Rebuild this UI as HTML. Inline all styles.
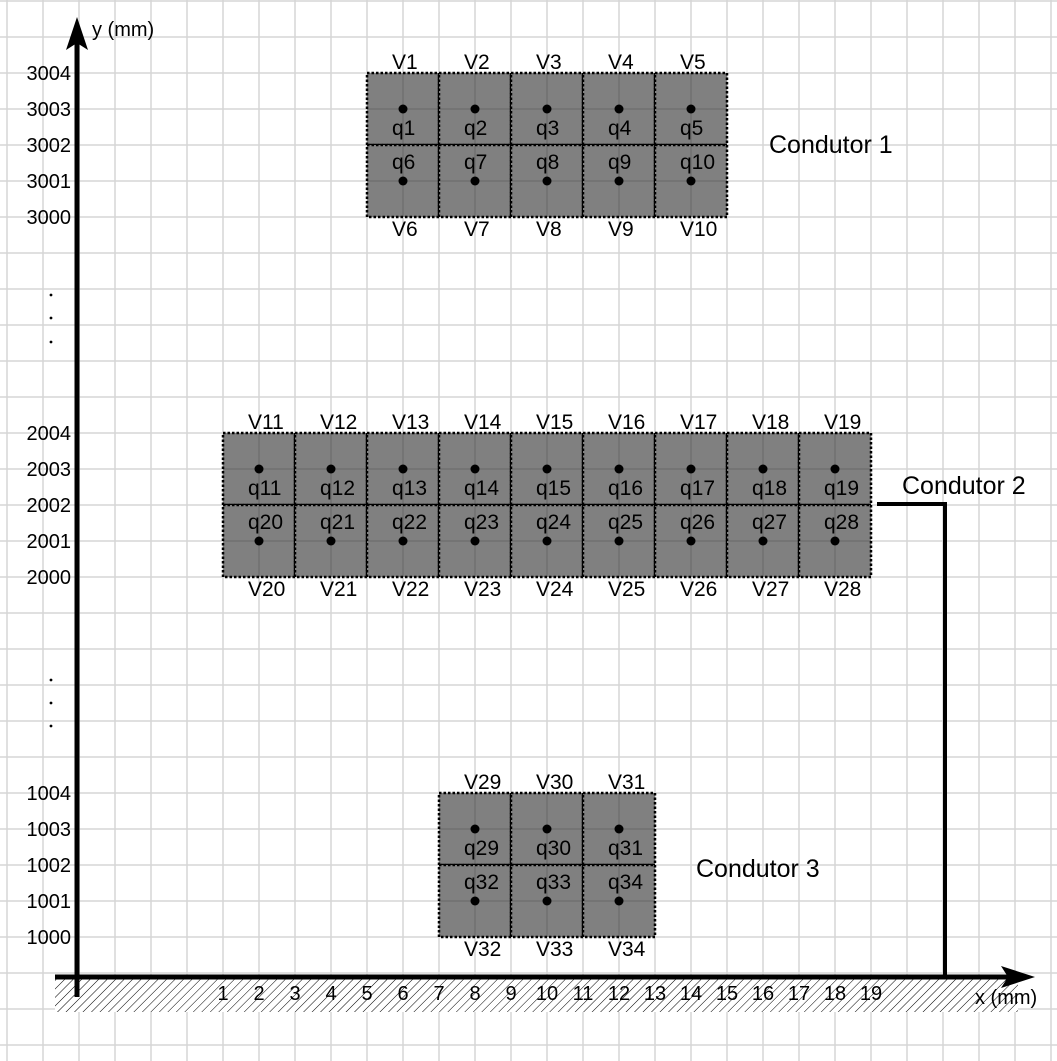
<!DOCTYPE html>
<html><head><meta charset="utf-8"><style>
html,body{margin:0;padding:0;background:#fff;}
svg{display:block;font-family:"Liberation Sans","DejaVu Sans",sans-serif;}
</style></head><body>
<svg id="chart" width="1057" height="1061" viewBox="0 0 1057 1061" xmlns="http://www.w3.org/2000/svg">
<defs>
<pattern id="hatch" patternUnits="userSpaceOnUse" width="6" height="6" patternTransform="rotate(45)">
<line x1="0" y1="0" x2="0" y2="6" stroke="#000" stroke-width="1"/>
</pattern>
</defs>
<g id="grid"></g>
<g id="content"></g>
</svg>
<script>
// Conductor data (grid units)
const condNames = ["Condutor 1","Condutor 2","Condutor 3"];
const condXStart = [5, 1, 7];
const condCols = [5, 9, 3];
const condYBase = [3000, 2000, 1000];
const condVStart = [1, 11, 29];
const condQStart = [1, 11, 29];
const yTicks = [[3000,3001,3002,3003,3004],[2000,2001,2002,2003,2004],[1000,1001,1002,1003,1004]];
const xTicks = [1,2,3,4,5,6,7,8,9,10,11,12,13,14,15,16,17,18,19];

const NS = "http://www.w3.org/2000/svg";
const content = document.getElementById('content');
const basePx = [217, 577, 937];
function xPx(u){ return 187 + 36*u; }
function yPx(i, v){ return basePx[i] - 36*(v - condYBase[i]); }
function mk(tag, attrs, parent, text){
  const e = document.createElementNS(NS, tag);
  for (const k in attrs) e.setAttribute(k, attrs[k]);
  if (text !== undefined) e.textContent = text;
  (parent||content).appendChild(e);
  return e;
}

// grid (under everything)
const gridG = mk('g',{stroke:'#d6d6d6','stroke-width':1.5},document.getElementById('grid'));


for (let x=7;x<1057;x+=36) mk('line',{x1:x,y1:0,x2:x,y2:1061},gridG);
for (let y=1;y<1061;y+=36) mk('line',{x1:0,y1:y,x2:1057,y2:y},gridG);

// hatch under x-axis
let hb = mk('rect',{x:55,y:977,width:963,height:35,fill:'#fff'});


let h = mk('rect',{x:55,y:977,width:963,height:35,fill:'url(#hatch)'});



// conductors
for (let i=0;i<3;i++){
  const g = mk('g',{});
  
  
  for (let r=0;r<2;r++){
    for (let c=0;c<condCols[i];c++){
      const x0 = xPx(condXStart[i] + 2*c);
      const y0 = yPx(i, condYBase[i] + 4 - 2*r);
      const cell = mk('rect',{x:x0,y:y0,width:72,height:72,fill:'#808080',stroke:'#000','stroke-width':2.5,'stroke-dasharray':'2.5 2'},g);
      
      
    }
  }
  // inner grid lines over cells
  const ig = mk('g',{stroke:'rgba(0,0,0,0.12)','stroke-width':1.5},g);
  
  
  const gx0 = xPx(condXStart[i]), gx1 = xPx(condXStart[i]+2*condCols[i]);
  const gy0 = yPx(i,condYBase[i]+4), gy1 = yPx(i,condYBase[i]);
  for (let x=gx0+36;x<gx1;x+=72) mk('line',{x1:x,y1:gy0,x2:x,y2:gy1},ig);
  mk('line',{x1:gx0,y1:gy0+36,x2:gx1,y2:gy0+36},ig);
  mk('line',{x1:gx0,y1:gy0+108,x2:gx1,y2:gy0+108},ig);

  for (let c=0;c<condCols[i];c++){
    const cx = xPx(condXStart[i] + 2*c + 1);
    const topY = yPx(i, condYBase[i]+4), botY = yPx(i, condYBase[i]);
    const vt = mk('text',{x:cx-11,y:topY-4,'font-size':21},g,'V'+(condVStart[i]+c));
    
    
    const vb = mk('text',{x:cx-11,y:botY+19,'font-size':21},g,'V'+(condVStart[i]+condCols[i]+c));
    
    
    const d1 = mk('circle',{cx:cx,cy:yPx(i,condYBase[i]+3),r:4.5,fill:'#000'},g);
    
    
    const d2 = mk('circle',{cx:cx,cy:yPx(i,condYBase[i]+1),r:4.5,fill:'#000'},g);
    
    
    const q1 = mk('text',{x:cx-11,y:yPx(i,condYBase[i]+3)+26,'font-size':21},g,'q'+(condQStart[i]+c));
    
    
    const q2 = mk('text',{x:cx-11,y:yPx(i,condYBase[i]+1)-12,'font-size':21},g,'q'+(condQStart[i]+condCols[i]+c));
    
    
  }
  yTicks[i].forEach(v=>{
    const t = mk('text',{x:71,y:yPx(i,v)+7,'font-size':20,'text-anchor':'end'},content,String(v));
    
    
  });
}
// conductor names
const namePos = [[769,153],[902,494],[696,877]];
condNames.forEach((n,i)=>{
  const t = mk('text',{x:namePos[i][0],y:namePos[i][1],'font-size':25},content,n);
  
  
});
// wire
const w = mk('polyline',{points:'877,504 945,504 945,977',fill:'none',stroke:'#000','stroke-width':4});



// ellipsis dots
[295,318,342,680,703,726].forEach(y=>{
  const d = mk('circle',{cx:51,cy:y,r:1.4,fill:'#000'});
  
  
});

// axes
const ya = mk('line',{x1:77,y1:997,x2:77,y2:35,stroke:'#000','stroke-width':5});


const yar = mk('polygon',{points:'77,17 66,50 77,43 88,50',fill:'#000'});


const xa = mk('line',{x1:55,y1:977,x2:1020,y2:977,stroke:'#000','stroke-width':5});


const xar = mk('polygon',{points:'1035,977 1001,966 1008,977 1001,988',fill:'#000'});


const yt = mk('text',{x:92,y:36,'font-size':20},content,'y (mm)');


const xt = mk('text',{x:975,y:1004,'font-size':20},content,'x (mm)');


xTicks.forEach(u=>{
  const t = mk('text',{x:xPx(u),y:1000,'font-size':20,'text-anchor':'middle'},content,String(u));
  
  
});
</script>
</body></html>
